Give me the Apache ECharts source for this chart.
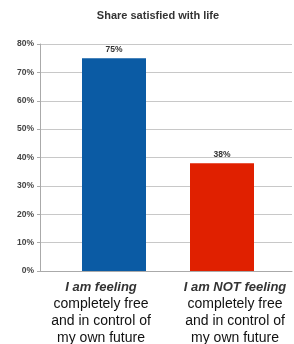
<!DOCTYPE html>
<html lang="en">
<head>
    <meta charset="UTF-8">
    <title>Share satisfied with life</title>
    <script src="https://cdn.jsdelivr.net/npm/echarts@6/dist/echarts.min.js"></script>
    <style>
        html, body { margin: 0; padding: 0; background: #fff; }
    </style>
</head>
<body>
<div id="main" style="width: 294px;height:344px;"></div>
<script type="text/javascript">
    var chart = echarts.init(document.getElementById('main'));

    // data
    var categories = ['feeling', 'not feeling'];
    var leadLines = ['I am feeling', 'I am NOT feeling'];
    var restLines = ['completely free', 'and in control of', 'my own future'];
    var shares = [75, 38];
    var barColors = ['#0b5ba4', '#e02000'];
    var yTicks = { min: 0, max: 80, interval: 10 };

    var option = {
        title: {
            text: 'Share satisfied with life',
            left: 153,
            top: 5,
            textAlign: 'center',
            textStyle: { fontFamily: 'Liberation Sans', fontSize: 11, fontWeight: 'bold', color: '#333' }
        },
        grid: [
            // gridlines + y axis
            { left: 40, right: 2, top: 44, bottom: 73, outerBoundsMode: 'none' },
            // bars
            { left: 60, right: 18, top: 44, bottom: 73, outerBoundsMode: 'none' },
            // category labels
            { left: 34, width: 268, top: 44, bottom: 73, outerBoundsMode: 'none' }
        ],
        xAxis: [
            {
                gridIndex: 0, type: 'category', data: categories,
                axisLine: { lineStyle: { color: '#aaa' } },
                axisTick: { show: false },
                axisLabel: { show: false }
            },
            {
                gridIndex: 1, type: 'category', data: categories,
                axisLine: { show: false }, axisTick: { show: false }, axisLabel: { show: false }
            },
            {
                gridIndex: 2, type: 'category', data: categories,
                axisLine: { show: false }, axisTick: { show: false },
                axisLabel: {
                    interval: 0,
                    margin: 8,
                    formatter: function (v, i) {
                        return '{a|' + leadLines[i] + '}\n' + restLines.map(function (s) {
                            return '{b|' + s + '}';
                        }).join('\n');
                    },
                    rich: {
                        a: { fontFamily: 'Liberation Sans', fontSize: 13, fontStyle: 'italic', fontWeight: 'bold', color: '#333', lineHeight: 17 },
                        b: { fontFamily: 'Liberation Sans', fontSize: 14, color: '#111', lineHeight: 17 }
                    }
                }
            }
        ],
        yAxis: [
            {
                gridIndex: 0, type: 'value',
                min: yTicks.min, max: yTicks.max, interval: yTicks.interval,
                axisLine: { show: true, lineStyle: { color: '#aaa' } },
                axisTick: { show: true, length: 3, lineStyle: { color: '#aaa' } },
                axisLabel: {
                    margin: 6,
                    formatter: '{value}%',
                    fontFamily: 'Liberation Sans', fontSize: 8.5, fontWeight: 'bold', color: '#444'
                },
                splitLine: { lineStyle: { color: '#c8c8c8' } }
            },
            {
                gridIndex: 1, type: 'value',
                min: yTicks.min, max: yTicks.max, interval: yTicks.interval,
                show: false
            },
            {
                gridIndex: 2, type: 'value',
                min: yTicks.min, max: yTicks.max, interval: yTicks.interval,
                show: false
            }
        ],
        series: [{
            type: 'bar',
            xAxisIndex: 1,
            yAxisIndex: 1,
            barWidth: 64,
            data: shares.map(function (v, i) {
                return { value: v, itemStyle: { color: barColors[i] } };
            }),
            label: {
                show: true,
                position: 'top',
                distance: 4,
                formatter: '{c}%',
                fontFamily: 'Liberation Sans', fontSize: 8.5, fontWeight: 'bold', color: '#333'
            }
        }]
    };

    chart.setOption(option);
</script>
</body>
</html>
